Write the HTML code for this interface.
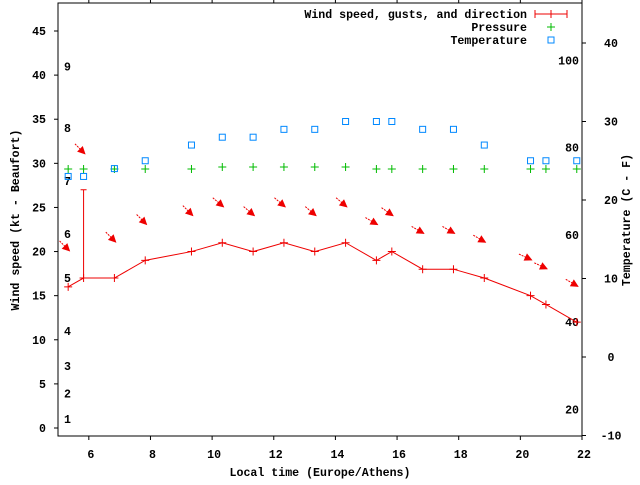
<!DOCTYPE html>
<html><head><meta charset="utf-8"><style>
html,body{margin:0;padding:0;background:#fff}
svg text{font-family:"Liberation Mono",monospace;font-weight:bold;font-size:11.6px;fill:#000}
</style></head><body>
<svg id="chart" width="640" height="480" viewBox="0 0 640 480" xmlns="http://www.w3.org/2000/svg">
<rect x="0" y="0" width="640" height="480" fill="#fff"/>
<g id="axes"></g>
<g id="marks"></g>
<text x="320" y="476" text-anchor="middle">Local time (Europe/Athens)</text>
<text transform="translate(19,220) rotate(-90)" text-anchor="middle">Wind speed (kt - Beaufort)</text>
<text transform="translate(630,220) rotate(-90)" text-anchor="middle">Temperature (C - F)</text>
<g>
<text x="527" y="18" text-anchor="end">Wind speed, gusts, and direction</text>
<line x1="535" y1="14" x2="567" y2="14" stroke="#e00" stroke-width="1"/>
<line x1="535" y1="10" x2="535" y2="18" stroke="#e00"/><line x1="567" y1="10" x2="567" y2="18" stroke="#e00"/>
<line x1="551" y1="10" x2="551" y2="18" stroke="#e00"/>
<text x="527" y="31" text-anchor="end">Pressure</text>
<path d="M547 27h8M551 23v8" stroke="#0b0" fill="none"/>
<text x="527" y="44" text-anchor="end">Temperature</text>
<rect x="548" y="37" width="6" height="6" fill="none" stroke="#08f"/>
</g>
</svg>
<script>
const times = [5.33,5.83,6.83,7.83,9.33,10.33,11.33,12.33,13.33,14.33,15.33,15.83,16.83,17.83,18.83,20.33,20.83,21.83];
const windSpeed = [16,17,17,19,20,21,20,21,20,21,19,20,18,18,17,15,14,12];
const windGust = [null,27,null,null,null,null,null,null,null,null,null,null,null,null,null,null,null,null];
const windDir = [315,315,315,315,315,310,310,310,310,310,300,305,300,300,300,295,295,300];
const pressure = [1013,1013,1013,1013,1013,1014,1014,1014,1014,1014,1013,1013,1013,1013,1013,1013,1013,1013];
const temperature = [23,23,24,25,27,28,28,29,29,30,30,30,29,29,27,25,25,25];
const xTicks = [6,8,10,12,14,16,18,20,22];
const yTicks = [0,5,10,15,20,25,30,35,40,45];
const y2Ticks = [-10,0,10,20,30,40];
const fTicks = [20,40,60,80,100];
const beaufortLabels = ["1","2","3","4","5","6","7","8","9"];
const beaufortKt = [1,3.9,7,11,17,22,28,34,41];

const L=58,R=582,T=3,B=436;
const xs=h=>L+(h-5)*(R-L)/17;
const ys=k=>428-k*(428-31)/45;
const yc=c=>357-c*(357-43)/40;
const yp=p=>169-(p-1013)*2;
const NS="http://www.w3.org/2000/svg";
function mk(tag,attrs,parent){const e=document.createElementNS(NS,tag);for(const k in attrs)e.setAttribute(k,attrs[k]);parent.appendChild(e);return e;}
const ax=document.getElementById('axes'), mg=document.getElementById('marks');
const border=mk('rect',{x:L,y:T,width:R-L,height:B-T,fill:'none',stroke:'#000','stroke-width':1},ax);


xTicks.forEach(v=>{const x=xs(v);
 mk('line',{x1:x,y1:B,x2:x,y2:B+4,stroke:'#000'},ax);
 mk('line',{x1:x,y1:T,x2:x,y2:T-4,stroke:'#000'},ax);
 const t=mk('text',{x:x+2,y:458,'text-anchor':'middle'},ax);t.textContent=v;
 
 });
yTicks.forEach(v=>{const y=ys(v);
 mk('line',{x1:L,y1:y,x2:L-4,y2:y,stroke:'#000'},ax);
 const t=mk('text',{x:46,y:y+4,'text-anchor':'end'},ax);t.textContent=v;
 
 });
y2Ticks.forEach(v=>{const y=yc(v);
 mk('line',{x1:R,y1:y,x2:R+4,y2:y,stroke:'#000'},ax);
 const t=mk('text',{x:611,y:y+4,'text-anchor':'middle'},ax);t.textContent=v;
 
 });
fTicks.forEach(v=>{const y=yc((v-32)*5/9);
 const t=mk('text',{x:579,y:y+4,'text-anchor':'end'},ax);t.textContent=v;
 
 });
beaufortLabels.forEach((s,i)=>{const t=mk('text',{x:64,y:ys(beaufortKt[i])+4},ax);t.textContent=s;
 
 });
// wind line
const pts=times.map((h,i)=>xs(h)+','+ys(windSpeed[i])).join(' ');
const pl=mk('polyline',{points:pts,fill:'none',stroke:'#e00','stroke-width':1},mg);


times.forEach((h,i)=>{const x=xs(h),y=ys(windSpeed[i]);
 const p=mk('path',{d:`M${x-4} ${y}h8M${x} ${y-4}v8`,stroke:'#e00',fill:'none'},mg);
 
 
 if(windGust[i]!=null){const g=mk('path',{d:`M${x} ${y}V${ys(windGust[i])}M${x-3} ${ys(windGust[i])}h6`,stroke:'#e00',fill:'none'},mg);
  
  }
 // direction arrow
 const top=windGust[i]!=null?windGust[i]:windSpeed[i];
 const tx=x+2, ty=ys(top+4);
 const a=(windDir[i]+180)*Math.PI/180; // blowing toward
 const dx=Math.sin(a), dy=-Math.cos(a), len=15;
 const sx=tx-dx*len, sy=ty-dy*len;
 const ar=mk('g',{},mg);
 
 
 mk('line',{x1:sx,y1:sy,x2:tx,y2:ty,stroke:'#e00','stroke-width':1,'stroke-dasharray':'2,1'},ar);
 const px=-dy,py=dx;
 mk('polygon',{points:`${tx},${ty} ${tx-dx*8+px*4},${ty-dy*8+py*4} ${tx-dx*8-px*4},${ty-dy*8-py*4}`,fill:'#e00'},ar);
});
times.forEach((h,i)=>{const x=xs(h),y=yp(pressure[i]);
 const p=mk('path',{d:`M${x-4} ${y}h8M${x} ${y-4}v8`,stroke:'#0b0',fill:'none'},mg);
 
 });
times.forEach((h,i)=>{const x=xs(h),y=yc(temperature[i]);
 const r=mk('rect',{x:x-3,y:y-3,width:6,height:6,fill:'none',stroke:'#08f'},mg);
 
 });
</script>
</body></html>
